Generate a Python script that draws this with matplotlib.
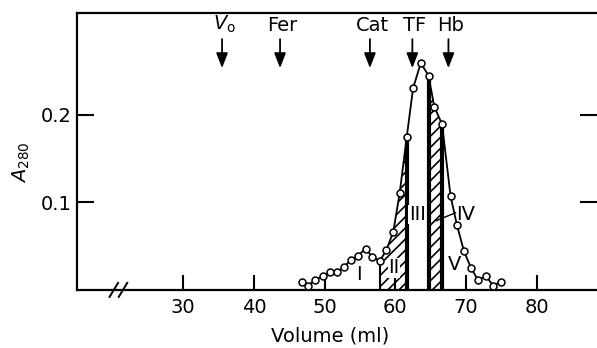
import numpy as np
import matplotlib.pyplot as plt

plt.rcParams['font.family'] = ['DejaVu Sans']
plt.rcParams['mathtext.fontset'] = 'dejavusans'
plt.rcParams['hatch.linewidth'] = 1.2

# elution profile
volume = [46.8, 47.7, 48.6, 49.8, 50.8, 51.7, 52.7, 53.7, 54.7, 55.8,
          56.7, 57.8, 58.7, 59.7, 60.6, 61.6, 62.5, 63.6, 64.7, 65.5,
          66.6, 67.8, 68.7, 69.7, 70.7, 71.7, 72.8, 73.8, 74.9]
a280 = [0.009, 0.005, 0.011, 0.016, 0.020, 0.020, 0.026, 0.034, 0.039, 0.047,
        0.038, 0.033, 0.045, 0.066, 0.110, 0.174, 0.230, 0.259, 0.244, 0.209,
        0.189, 0.107, 0.074, 0.044, 0.025, 0.011, 0.016, 0.005, 0.009]

# marker proteins
markers = ['$V_\\mathregular{o}$', 'Fer', 'Cat', 'TF', 'Hb']
marker_vol = [35.5, 43.7, 56.4, 62.4, 67.5]

# pooled fractions (boundaries in ml) and labels
cuts = [57.8, 61.6, 64.7, 66.6]
hatched = [(57.8, 61.6), (64.7, 66.6)]
frac_labels = ['I', 'II', 'III', 'IV', 'V']
frac_pos = [(54.9, 0.017), (59.8, 0.025), (63.1, 0.086), (70.0, 0.086), (68.3, 0.029)]

vol = np.array(volume)
a = np.array(a280)

fig = plt.figure(figsize=(5.97, 3.48), dpi=100)
ax = fig.add_axes([0.129, 0.167, 0.871, 0.796])

# hatched pools
for lo, hi in hatched:
    m = (vol >= lo) & (vol <= hi)
    ax.fill_between(vol[m], 0, a[m], facecolor='white', edgecolor='black',
                    hatch='///', linewidth=0)

# fraction boundaries
for i, c in enumerate(cuts):
    ax.vlines(c, 0, np.interp(c, vol, a), color='black',
              linewidth=1.5 if i == 0 else 3.0)

ax.plot(vol, a, color='black', linewidth=1.3, marker='o', markersize=5,
        markerfacecolor='white', markeredgecolor='black', markeredgewidth=1.1,
        zorder=3)

for lab, (x, y) in zip(frac_labels, frac_pos):
    box = None
    if lab in ('II', 'III'):
        box = dict(facecolor='white', edgecolor='none', pad=0.3)
    ax.text(x, y, lab, fontsize=14, ha='center', va='center', bbox=box)
# leader line for IV
ax.plot([65.8, 68.5], [0.079, 0.088], color='black', linewidth=1.0)

for lab, x in zip(markers, marker_vol):
    ax.annotate('', xy=(x, 0.253), xytext=(x, 0.286),
                arrowprops=dict(arrowstyle='-|>,head_length=0.9,head_width=0.35',
                                color='black', linewidth=1.3, shrinkA=0, shrinkB=0))
    ax.text(x + 0.3, 0.291, lab, fontsize=14, ha='center', va='bottom')

ax.set_xlim(15, 88.5)
ax.set_ylim(0, 0.316)
ax.set_xticks([30, 40, 50, 60, 70, 80])
ax.set_yticks([0.1, 0.2])
ax.set_yticklabels(['0.1', '0.2'])
ax.tick_params(axis='x', direction='in', length=11, width=1.5, labelsize=14, pad=6)
ax.tick_params(axis='y', direction='in', length=12, width=1.5, labelsize=14, pad=4,
               right=True)
for s in ['left', 'bottom', 'top']:
    ax.spines[s].set_linewidth(1.6)
ax.spines['right'].set_visible(False)

# axis break
for dx in (0, 1.3):
    ax.plot([19.6 + dx, 20.8 + dx], [-0.008, 0.008], color='black', linewidth=1.4,
            clip_on=False)

ax.set_xlabel('Volume (ml)', fontsize=14, x=0.487, labelpad=7)
ax.set_ylabel('$A_{280}$', fontsize=14, y=0.46, labelpad=6)

fig.savefig('out.png', dpi=100)
